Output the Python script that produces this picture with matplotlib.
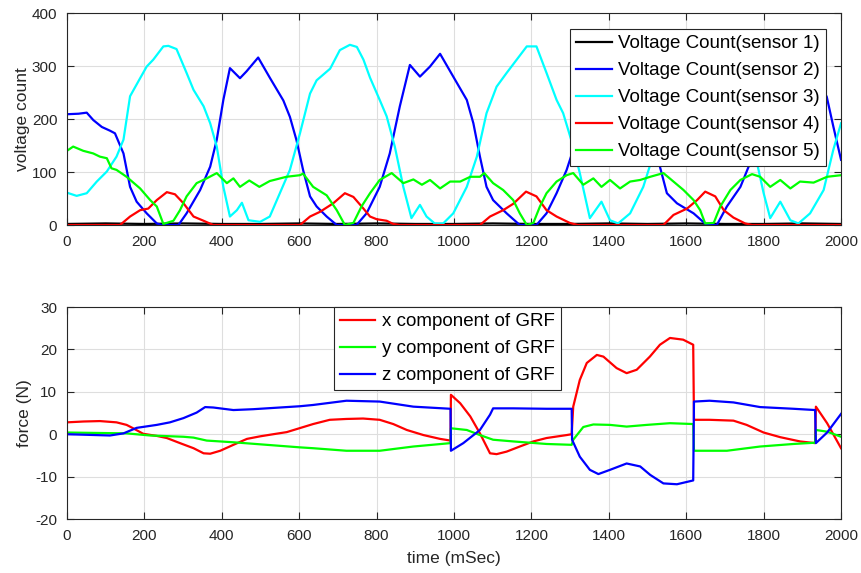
import numpy as np
import matplotlib.pyplot as plt

plt.rcParams['font.family'] = ['Liberation Sans', 'DejaVu Sans']
plt.rcParams['axes.unicode_minus'] = False

# --- top panel: voltage counts of the five sensors (time in ms, count) ---
s1_t = [0, 100, 200, 300, 400, 500, 600, 700, 800, 900, 1000, 1100, 1200, 1300, 1400, 1500, 1600, 1700, 1800, 1900, 2000]
s1_v = [2, 3, 2, 3, 2, 2, 3, 2, 3, 2, 2, 3, 2, 2, 3, 2, 3, 2, 2, 3, 2]

s2_t = [0, 30, 51, 68, 90, 111, 124, 146, 163, 180, 206, 232, 245, 288, 309, 344, 370, 387, 404, 421,
        447, 464, 494, 524, 559, 576, 593, 610, 628, 645, 671, 697, 748, 774, 808, 834, 860, 886, 912, 938, 964,
        998, 1033, 1050, 1067, 1084, 1101, 1136, 1170, 1213, 1239, 1265, 1291, 1308, 1330, 1355, 1380, 1400,
        1430, 1465, 1500, 1532, 1550, 1576, 1619, 1653, 1679, 1705, 1740, 1765, 1800, 1825, 1850, 1870, 1900,
        1935, 1963, 1980, 2000]
s2_v = [209, 210, 212, 198, 185, 178, 173, 135, 72, 44, 22, 3, 0, 0, 22, 66, 110, 161, 236, 296,
        277, 290, 316, 278, 235, 204, 160, 104, 54, 35, 16, 0, 0, 22, 72, 135, 224, 302, 280, 299, 323,
        280, 236, 192, 129, 72, 47, 22, 0, 0, 22, 60, 104, 142, 220, 295, 280, 295,
        320, 280, 235, 110, 60, 41, 22, 0, 0, 35, 72, 117, 220, 295, 280, 295, 320,
        280, 242, 186, 123]

s3_t = [0, 25, 51, 77, 103, 128, 146, 163, 189, 206, 223, 249, 262, 283, 309, 327, 353, 370, 387, 404,
        421, 439, 452, 469, 499, 524, 550, 576, 602, 628, 645, 680, 705, 731, 749, 766, 783, 808, 826, 847, 869,
        890, 912, 929, 950, 972, 998, 1033, 1059, 1084, 1110, 1136, 1162, 1188, 1213, 1239, 1265, 1282, 1308,
        1325, 1351, 1381, 1403, 1424, 1455, 1489, 1511, 1540, 1570, 1600, 1630, 1660, 1690, 1720, 1750, 1782,
        1800, 1817, 1843, 1869, 1890, 1920, 1955, 1980, 2000]
s3_v = [61, 55, 60, 82, 101, 129, 161, 243, 277, 299, 312, 337, 338, 332, 287, 255, 224, 192, 148, 72,
        16, 28, 42, 9, 6, 16, 60, 104, 173, 248, 273, 295, 330, 340, 336, 312, 278, 236, 205, 148, 72,
        13, 38, 16, 3, 3, 22, 72, 129, 211, 261, 287, 312, 337, 337, 287, 236, 211, 148,
        98, 13, 44, 9, 3, 22, 72, 123, 210, 260, 290, 315, 337, 337, 290, 211, 120,
        60, 13, 44, 9, 3, 22, 66, 142, 192]

s4_t = [0, 137, 163, 189, 210, 232, 258, 279, 301, 327, 353, 378, 602, 628, 654, 688, 718, 740, 766, 783,
        800, 826, 843, 860, 1067, 1093, 1127, 1153, 1186, 1213, 1239, 1265, 1299, 1320, 1541, 1567, 1602, 1628,
        1649, 1675, 1697, 1722, 1752, 1770, 2000]
s4_v = [0, 0, 16, 28, 31, 47, 62, 58, 41, 16, 8, 0, 0, 16, 25, 41, 60, 53, 31, 16,
        11, 8, 2, 0, 0, 16, 28, 40, 63, 54, 28, 16, 4, 0, 0, 19, 31, 47,
        63, 54, 28, 14, 3, 0, 0]

s5_t = [0, 16, 42, 68, 85, 103, 115, 128, 154, 189, 215, 232, 249, 275, 292, 309, 335, 361, 387, 413,
        430, 447, 471, 497, 524, 567, 602, 610, 636, 671, 697, 718, 740, 761, 783, 808, 839,
        869, 895, 917, 938, 964, 990, 1016, 1042, 1067, 1078, 1101, 1127, 1153, 1170, 1188, 1205, 1222, 1239,
        1265, 1291, 1308, 1334, 1360, 1381, 1403, 1429, 1455, 1481, 1507, 1541, 1567, 1593, 1619, 1636, 1649,
        1671, 1688, 1714, 1740, 1770, 1791, 1817, 1843, 1869, 1894, 1929, 1964, 2000]
s5_v = [140, 148, 140, 135, 129, 126, 107, 104, 91, 69, 47, 35, 2, 8, 28, 54, 79, 88, 98, 79,
        88, 72, 84, 72, 83, 91, 94, 97, 72, 56, 28, 0, 4, 35, 60, 85, 98,
        79, 86, 76, 85, 69, 82, 82, 91, 91, 98, 79, 66, 47, 22, 0, 4, 35, 60,
        82, 94, 98, 76, 88, 72, 85, 69, 82, 85, 91, 98, 82, 66, 47, 28, 3,
        4, 35, 66, 85, 96, 91, 72, 85, 69, 82, 80, 91, 94]

# --- bottom panel: ground reaction force components (time in ms, N) ---
fx_t = [0, 43, 85, 128, 154, 171, 197, 232, 258, 292, 327, 353, 370, 396, 430, 465, 499, 533, 568, 593,
        636, 679, 722, 765, 808, 843, 878, 921, 964, 991, 992, 1016, 1042, 1067, 1093, 1110, 1136, 1170,
        1205, 1239, 1291, 1304, 1308, 1325, 1343, 1369, 1386, 1420, 1446, 1472, 1506, 1532, 1558, 1592,
        1618, 1620, 1660, 1722, 1756, 1800, 1843, 1894, 1933, 1935, 1964, 2000]
fx_v = [2.8, 3.0, 3.1, 2.8, 2.2, 1.4, 0.1, -0.4, -0.9, -2.1, -3.3, -4.5, -4.6, -3.9, -2.5, -1.1, -0.5, 0.0, 0.5, 1.2,
        2.4, 3.4, 3.6, 3.7, 3.4, 2.4, 1.0, -0.2, -1.1, -1.5, 9.3, 7.3, 4.2, 0.2, -4.5, -4.7, -4.1, -2.9,
        -1.7, -0.9, -0.2, 0.0, 6.5, 12.8, 16.8, 18.7, 18.3, 15.6, 14.4, 15.2, 18.3, 21.1, 22.7, 22.3,
        21.1, 3.4, 3.4, 3.2, 2.2, 0.4, -0.7, -1.7, -2.1, 6.5, 2.6, -3.3]

fy_t = [0, 154, 215, 301, 327, 361, 430, 516, 602, 636, 722, 808, 895, 991, 992, 1033, 1067, 1101, 1153,
        1239, 1304, 1308, 1334, 1360, 1403, 1446, 1498, 1558, 1618, 1620, 1705, 1791, 1877, 1933, 1935,
        1964, 2000]
fy_v = [0.4, 0.2, -0.3, -0.6, -0.8, -1.5, -1.9, -2.5, -3.1, -3.3, -3.9, -3.9, -2.9, -2.1, 1.4, 1.0, -0.2, -1.3, -1.7,
        -2.3, -2.5, -1.3, 1.7, 2.3, 2.2, 1.8, 2.2, 2.6, 2.4, -3.9, -3.9, -2.9, -2.3, -2.0, 1.0,
        0.6, -0.6]

fz_t = [0, 111, 146, 180, 232, 266, 301, 335, 357, 378, 430, 481, 533, 602, 636, 722, 808, 895, 991, 992,
        1024, 1067, 1093, 1101, 1153, 1239, 1304, 1305, 1325, 1351, 1373, 1403, 1446, 1481, 1507, 1541,
        1576, 1618, 1620, 1660, 1722, 1791, 1877, 1933, 1935, 1964, 2000]
fz_v = [0.0, -0.3, 0.2, 1.5, 2.2, 2.8, 3.8, 5.1, 6.4, 6.3, 5.7, 5.9, 6.2, 6.6, 6.9, 7.9, 7.7, 6.5, 6.0, -3.9,
        -2.1, 1.0, 4.6, 6.1, 6.1, 6.0, 6.0, -1.3, -5.3, -8.4, -9.4, -8.4, -6.9, -7.6, -9.6, -11.6,
        -11.8, -10.9, 7.7, 7.9, 7.5, 6.4, 6.0, 5.7, -2.1, 0.4, 4.8]


def style_axes(ax):
    # matlab-like look: boxed axes, inward ticks on all sides, light grid
    ax.set_xlim(0, 2000)
    ax.set_xticks(np.arange(0, 2001, 200))
    ax.grid(True, color='#dedede', linewidth=0.8)
    ax.set_axisbelow(True)
    ax.tick_params(direction='in', top=True, right=True, labelsize=11,
                   colors='#262626', length=5, pad=7)
    for sp in ax.spines.values():
        sp.set_color('#262626')
        sp.set_linewidth(0.8)


def add_legend(ax, anchor, loc):
    leg = ax.legend(loc=loc, bbox_to_anchor=anchor, borderaxespad=0,
                    fontsize=13.5, fancybox=False, framealpha=1, edgecolor='#262626',
                    handlelength=1.9, labelspacing=0.53, borderpad=0.32, handletextpad=0.35)
    leg.get_frame().set_linewidth(0.8)
    return leg


fig = plt.figure(figsize=(8.62, 5.73), dpi=100)
ax1 = fig.add_axes([0.0777, 0.6073, 0.898, 0.370])
ax2 = fig.add_axes([0.0777, 0.0942, 0.898, 0.370])

lw = 1.6
ax1.plot(s1_t, s1_v, color='black', lw=lw, label='Voltage Count(sensor 1)')
ax1.plot(s2_t, s2_v, color='#0000ff', lw=lw, label='Voltage Count(sensor 2)')
ax1.plot(s3_t, s3_v, color='#00ffff', lw=lw, label='Voltage Count(sensor 3)')
ax1.plot(s4_t, s4_v, color='#ff0000', lw=lw, label='Voltage Count(sensor 4)')
ax1.plot(s5_t, s5_v, color='#00ff00', lw=lw, label='Voltage Count(sensor 5)')
style_axes(ax1)
ax1.set_ylim(0, 400)
ax1.set_yticks(np.arange(0, 401, 100))
ax1.set_ylabel('voltage count', fontsize=12.5, color='#262626', labelpad=1)
add_legend(ax1, (0.9806, 0.9245), 'upper right')

ax2.plot(fx_t, fx_v, color='#ff0000', lw=lw, label='x component of GRF')
ax2.plot(fy_t, fy_v, color='#00ff00', lw=lw, label='y component of GRF')
ax2.plot(fz_t, fz_v, color='#0000ff', lw=lw, label='z component of GRF')
style_axes(ax2)
ax2.set_ylim(-20, 30)
ax2.set_yticks(np.arange(-20, 31, 10))
ax2.set_ylabel('force (N)', fontsize=12.5, color='#262626', labelpad=2)
ax2.set_xlabel('time (mSec)', fontsize=12.5, color='#262626', labelpad=6)
add_legend(ax2, (0.491, 1.0), 'upper center')

fig.savefig('out.png', dpi=100)
